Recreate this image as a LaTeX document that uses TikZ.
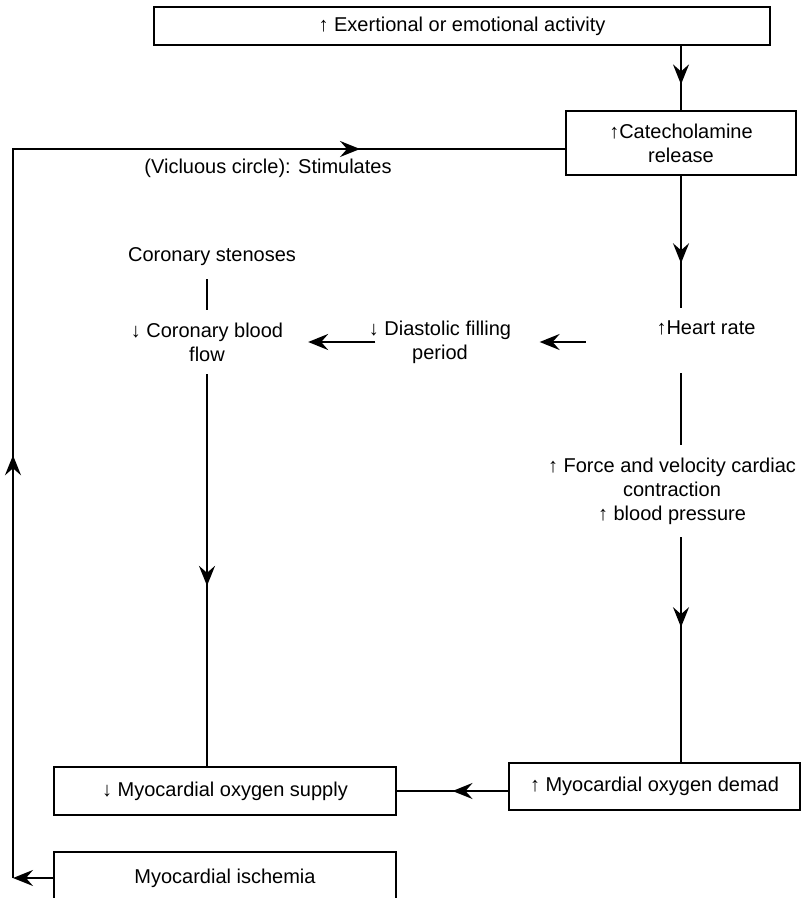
\documentclass[tikz,border=0pt]{standalone}
\usepackage{fontspec}
\setmainfont{Liberation Sans}
\usetikzlibrary{arrows.meta,decorations.markings}

\begin{document}
\begin{tikzpicture}[x=0.5pt,y=-0.5pt,line width=1pt,
  >={Stealth[length=10pt,width=8pt,inset=3.5pt]},
  every node/.style={font=\fontsize{10}{12}\selectfont},
  box/.style={draw,align=center,inner sep=0pt},
  lbl/.style={align=center,inner xsep=2pt,inner ysep=6pt},
  midarr/.style={postaction={decorate},decoration={markings,mark=at position #1 with {\arrow{>}}}}]

\useasboundingbox (0,0) rectangle (805,898);

%%%%%%%%%%%%%%%%%%%%%%%%%%%%%%%%%%%%%%

\node[box,minimum width=308pt,minimum height=19pt] (exert) at (462,26) {↑ Exertional or emotional activity};
\node[box,minimum width=115pt,minimum height=32pt] (cat) at (681,143) {↑Catecholamine\\release};
\node[box,minimum width=145.5pt,minimum height=23.5pt] (demand) at (654.5,786.5) {↑ Myocardial oxygen demad};
\node[box,minimum width=171pt,minimum height=24pt] (supply) at (225,791) {↓ Myocardial oxygen supply};
\node[box,minimum width=171pt,minimum height=26pt] (isch) at (225,878) {Myocardial ischemia};

%%%%%%%%%%%%%%%%%%%%%%%%%%%%%%%%%%%%%%

\node[lbl] (vicious) at (268,168) {(Vicluous circle): Stimulates};
\node[lbl] (sten) at (212,257) {Coronary stenoses};
\node[lbl] (flow) at (207,342) {↓ Coronary blood\\flow};
\node[lbl] (fill) at (440,342) {↓ Diastolic filling\\period};
\node[lbl,anchor=base,text depth=12.5pt] (heart) at (706,335) {↑Heart rate};
\node[lbl] (force) at (672,491) {↑ Force and velocity cardiac\\contraction\\↑ blood pressure};

\coordinate (lc) at (13,149);

%%%%%%%%%%%%%%%%%%%%%%%%%%%%%%%%%%%%%%

\draw[midarr=0.6] (cat.north |- exert.south) -- (cat.north);
\draw[midarr=0.66] (cat.south) -- (cat.south |- heart.north);
\draw (cat.south |- heart.south) -- (cat.south |- force.north);
\draw[midarr=0.4] (cat.south |- force.south) -- (cat.south |- demand.north);
\draw[midarr=0.5] (demand.west |- supply.east) -- (supply.east);

\draw[->,shorten <=33pt,shorten >=11.75pt] (heart.west |- fill.east) -- (fill.east);
\draw[->,shorten <=-5.75pt,shorten >=10pt] (fill.west) -- (flow.east);
\draw (sten.south -| flow.north) -- (flow.north);
\draw[midarr=0.54] (flow.south) -- (flow.south |- supply.north);

\draw[->] (isch.west) -- (isch.west -| lc);
\draw[postaction={decorate},decoration={markings,
    mark=at position 0.33 with {\arrow{>}},
    mark=at position 0.84 with {\arrow{>}}}]
  (isch.west -| lc) -- (lc) -- (lc -| cat.west);

\end{tikzpicture}
\end{document}
